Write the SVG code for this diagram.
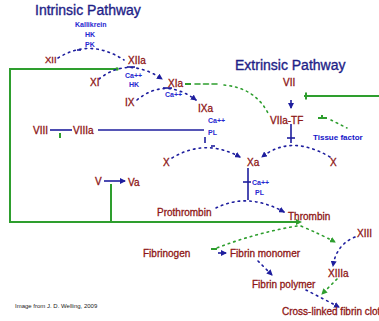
<svg xmlns="http://www.w3.org/2000/svg" width="379" height="321" viewBox="0 0 379 321">
  <style>
    .title { font-family: "Liberation Sans", Arial, sans-serif; font-size: 14px; fill: #1f1f88; stroke: #1f1f88; stroke-width: 0.35; }
    .f { font-family: "Liberation Sans", Arial, sans-serif; font-size: 10px; fill: #8e1616; stroke: #8e1616; stroke-width: 0.3; }
    .c { font-family: "Liberation Sans", Arial, sans-serif; font-size: 7px; font-weight: bold; fill: #2626d0; }
    .big { font-family: "Liberation Sans", Arial, sans-serif; font-size: 8px; font-weight: bold; fill: #1414c8; }
    .note { font-family: "Liberation Sans", Arial, sans-serif; font-size: 6px; fill: #222; }
    .dotB { fill: none; stroke: #1e1e9e; stroke-width: 1.6; stroke-dasharray: 1.6 4.2; stroke-linecap: round; }
    .dotG { fill: none; stroke: #2e9e2e; stroke-width: 1.6; stroke-dasharray: 1.6 4.2; stroke-linecap: round; }
    .solB { fill: none; stroke: #1e1e9e; stroke-width: 1.6; }
    .solG { fill: none; stroke: #2e9e2e; stroke-width: 2; }
  </style>
  <defs>
    <marker id="ab" markerWidth="6" markerHeight="6" refX="5" refY="3" orient="auto" markerUnits="userSpaceOnUse">
      <path d="M0,0 L6,3 L0,6 Z" fill="#1e1e9e"/>
    </marker>
    <marker id="ag" markerWidth="6" markerHeight="6" refX="5" refY="3" orient="auto" markerUnits="userSpaceOnUse">
      <path d="M0,0 L6,3 L0,6 Z" fill="#2e9e2e"/>
    </marker>
  </defs>
  <rect width="379" height="321" fill="#ffffff"/>

  <text class="title" x="35" y="15">Intrinsic Pathway</text>
  <text class="title" x="235" y="70">Extrinsic Pathway</text>

  <!-- connectors -->
  <g id="connectors">
    <!-- thrombin feedback loops -->
    <path class="solG" d="M117,69 H10 V222 H297"/>
    <path d="M296,219 L302,222 L296,225 Z" fill="#2e9e2e"/>
    <path class="solG" d="M111,184 V222"/>
    <path class="solG" d="M304,96 H379"/>
    <path class="solG" d="M306,92.5 V99.5"/>
    <circle cx="117" cy="69" r="1.8" fill="#2e9e2e"/>
    <path class="solG" d="M60,133 V138"/>

    <!-- contact activation -->
    <path class="dotB" d="M58,58 Q90,38 124,60"/>
    <path class="solB" d="M77,50 H81"/>
    <path class="dotB" d="M99,79 Q128,56 162,79" marker-end="url(#ab)"/>
    <path class="solB" d="M127,67 H135"/>
    <path class="dotB" d="M137,100 Q165,77 196,100" marker-end="url(#ab)"/>
    <path class="solB" d="M163,88 H172"/>

    <!-- tenase -->
    <path class="solB" d="M50,130 H72"/>
    <path class="solB" d="M98,130 H204"/>
    <path class="solB" d="M205,137 V143"/>
    <path class="solB" d="M211,146 H215"/>
    <path class="dotB" d="M172,158 Q205,138 240,157" marker-end="url(#ab)"/>
    <path class="dotB" d="M330,157 Q291,134 262,157" marker-end="url(#ab)"/>

    <!-- extrinsic -->
    <path class="solB" d="M291,100 V108" marker-end="url(#ab)"/>
    <path class="solB" d="M291,124 V143"/>
    <path class="solB" d="M287,138 H295"/>
    <path class="solG" d="M185,84 H191"/>
    <path class="dotG" d="M195,84 H218" style="stroke-dasharray:5 3.5"/>
    <path class="dotG" d="M224,85 Q256,88 269,115"/>
    <path class="solG" d="M318,118 H327 M322,115 V118"/>
    <path class="dotG" d="M331,120 L347,128"/>

    <!-- prothrombinase -->
    <path class="solB" d="M248,168 V200"/>
    <path class="solB" d="M243,182 H251"/>
    <path class="dotB" d="M216,208 Q248,192 284,212" marker-end="url(#ab)"/>
    <path class="solB" d="M104,181 H125" marker-end="url(#ab)"/>

    <!-- fibrin formation -->
    <path class="dotG" d="M297,226 Q255,233 214,249"/>
    <path class="solG" d="M211,249 H217"/>
    <path class="solB" d="M218,253 H226" marker-end="url(#ab)"/>
    <path class="dotB" d="M258,261 L272,275" marker-end="url(#ab)"/>
    <path class="dotG" d="M301,226 Q322,235 335,242" marker-end="url(#ag)"/>
    <path class="dotB" d="M355,237 Q336,245 333,266" marker-end="url(#ab)"/>
    <path class="dotG" d="M337,279 L322,294" marker-end="url(#ag)"/>
    <path class="dotB" d="M306,290 L339,307" marker-end="url(#ab)"/>
  </g>

  <!-- factors -->
  <g id="contact">
    <text class="c" x="75" y="27">Kallikrein</text>
    <text class="c" x="85" y="37">HK</text>
    <text class="c" x="85" y="47">PK</text>
    <text class="f" x="45" y="63" style="font-size:9.5px">XII</text>
    <text class="f" x="128" y="64">XIIa</text>
  </g>
  <g id="factor-xi">
    <text class="f" x="90" y="86">XI</text>
    <text class="c" x="125" y="78">Ca++</text>
    <text class="c" x="129" y="87">HK</text>
    <text class="f" x="168" y="87">XIa</text>
  </g>
  <g id="factor-ix">
    <text class="f" x="125" y="106">IX</text>
    <text class="c" x="165" y="97">Ca++</text>
    <text class="f" x="198" y="112">IXa</text>
  </g>
  <g id="factor-viii">
    <text class="f" x="33" y="134">VIII</text>
    <text class="f" x="73" y="134">VIIIa</text>
    <text class="c" x="208" y="123">Ca++</text>
    <text class="c" x="208" y="135">PL</text>
  </g>
  <g id="factor-vii">
    <text class="f" x="283" y="86">VII</text>
    <text class="f" x="270" y="124">VIIa-TF</text>
    <text class="big" x="313" y="140">Tissue factor</text>
  </g>
  <g id="factor-x">
    <text class="f" x="163" y="166">X</text>
    <text class="f" x="247" y="166">Xa</text>
    <text class="f" x="330" y="166">X</text>
  </g>
  <g id="factor-v">
    <text class="f" x="95" y="185">V</text>
    <text class="f" x="128" y="186">Va</text>
    <text class="c" x="252" y="185">Ca++</text>
    <text class="c" x="255" y="195">PL</text>
  </g>
  <g id="thrombin">
    <text class="f" x="157" y="216">Prothrombin</text>
    <text class="f" x="288" y="220">Thrombin</text>
  </g>
  <g id="fibrin">
    <text class="f" x="143" y="257">Fibrinogen</text>
    <text class="f" x="230" y="257">Fibrin monomer</text>
    <text class="f" x="252" y="288">Fibrin polymer</text>
    <text class="f" x="282" y="315">Cross-linked fibrin clot</text>
  </g>
  <g id="factor-xiii">
    <text class="f" x="357" y="237">XIII</text>
    <text class="f" x="328" y="277">XIIIa</text>
  </g>

  <text class="note" x="15" y="308">Image from J. D. Welling, 2009</text>
</svg>
